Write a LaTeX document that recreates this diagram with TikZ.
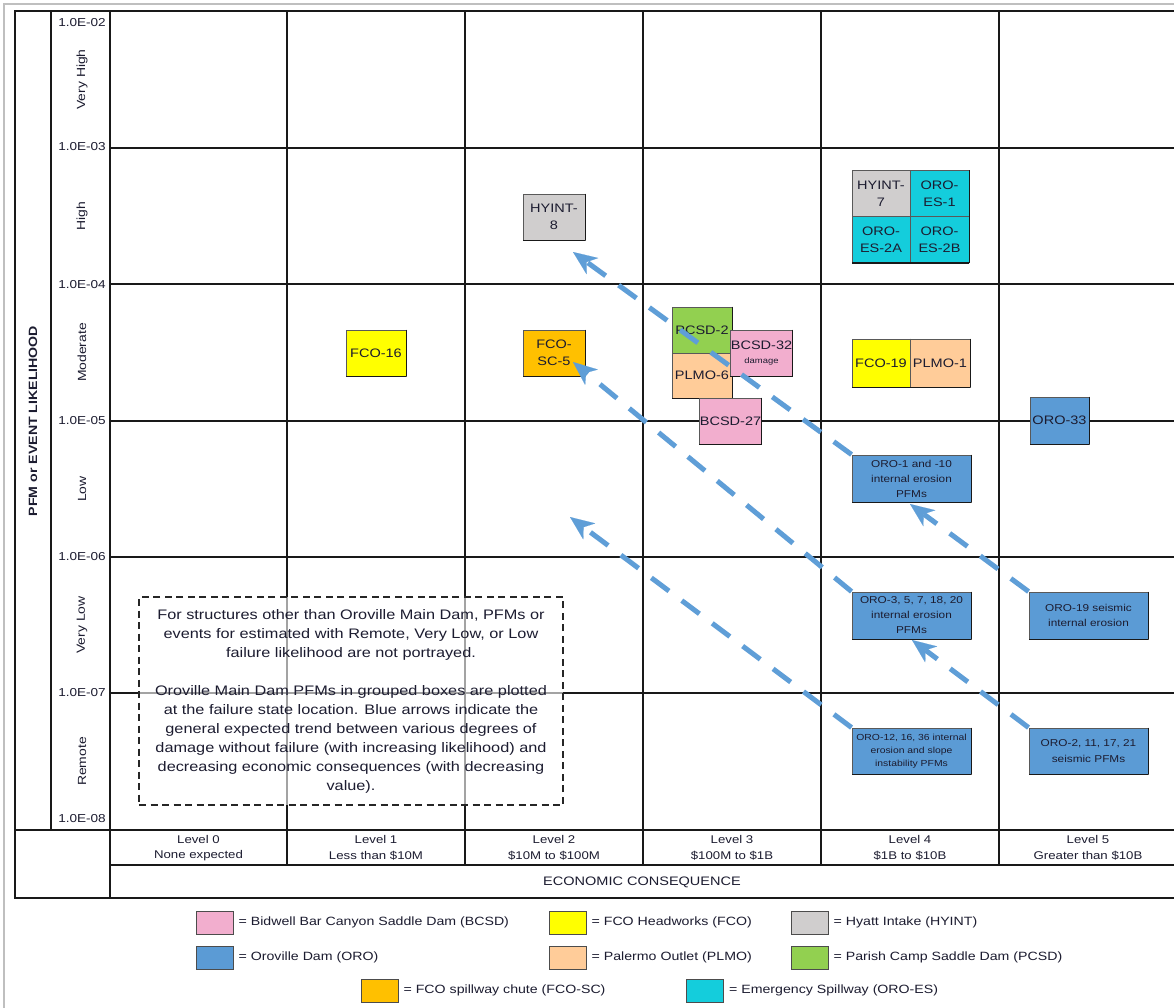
\documentclass[tikz,border=0pt]{standalone}
\usepackage{fontspec}
\setmainfont{Liberation Sans}[FakeStretch=1.18]
\usetikzlibrary{arrows.meta}
\definecolor{txtc}{RGB}{28,28,48}
\definecolor{pinkc}{RGB}{242,174,206}
\definecolor{yellowc}{RGB}{255,255,0}
\definecolor{grayc}{RGB}{208,206,206}
\definecolor{bluec}{RGB}{91,155,213}
\definecolor{peachc}{RGB}{255,204,153}
\definecolor{greenc}{RGB}{146,208,80}
\definecolor{orangec}{RGB}{255,192,0}
\definecolor{cyanc}{RGB}{20,205,220}
\definecolor{arrowc}{RGB}{95,158,215}
\newcommand\fsz[2]{\fontsize{#1}{#2}\selectfont}
\begin{document}
\begin{tikzpicture}[x=1pt,y=-1pt,
  every node/.style={text=txtc},
  gridline/.style={line width=1.5pt, draw=black!90},
  ticklbl/.style={anchor=east, inner sep=0pt, font=\fsz{11.5}{13}},
  catlbl/.style={rotate=90, inner sep=0pt, font=\fsz{11.8}{13}},
  lvllbl/.style={align=center, inner sep=0pt, font=\fsz{11.2}{15.5}},
  shadowedge/.style={draw=black!90, line width=1.3pt},
  pbox/.style={draw=black!65, line width=0.9pt, inner sep=0pt, align=center, font=\fsz{12.3}{17},
    append after command={(\tikzlastnode.north east) edge[shadowedge] (\tikzlastnode.south east)
      (\tikzlastnode.south east) edge[shadowedge] (\tikzlastnode.south west)}},
  orobox/.style={pbox, fill=bluec, minimum width=119, minimum height=47, font=\fsz{10}{15}},
  trend/.style={draw=arrowc, line width=5pt, dash pattern=on 22pt off 16pt,
    -{Stealth[length=24pt,width=20pt,inset=7pt,line width=0.1pt]}},
  swatch/.style={draw=black!70, line width=0.9pt, minimum width=37, minimum height=23, inner sep=0pt},
  legtext/.style={anchor=west, inner sep=0pt, xshift=5pt, font=\fsz{12}{14}},
]
\useasboundingbox (0,0) rectangle (1174,1008);
\clip (0,0) rectangle (1174,1008);
\fill[white] (0,0) rectangle (1174,1008);
% page border
\draw[black!25, line width=1.2pt] (4,1008) -- (4,4) -- (1174,4);
% frame and grid
\draw[gridline] (15,11) rectangle (1190,898);
\draw[gridline] (51,11) -- (51,830);
\draw[gridline] (110,11) -- (110,898);
\draw[gridline] (15,830) -- (1190,830);
\draw[gridline] (110,865) -- (1190,865);
\foreach \y in {148,284,421,557,693} \draw[gridline] (110,\y) -- (1190,\y);
\foreach \x in {287,465,643,821,999} \draw[gridline] (\x,11) -- (\x,865);
% axis labels
\foreach \y/\t in {23/02,147/03,285/04,421/05,557/06,693/07,819/08}
  \node[ticklbl] (tick\t) at (106,\y) {1.0E-\t};
\foreach \y/\t/\n in {79.5/Very High/a,216/High/b,352.5/Moderate/c,489/Low/d,625/Very Low/e,761.5/Remote/f}
  \node[catlbl] (cat\n) at (82,\y) {\t};
\node[rotate=90, inner sep=0pt, font=\bfseries\fsz{12}{14}] (ylabel) at (33,421) {PFM or EVENT LIKELIHOOD};
% level labels
\node[lvllbl] (lv0) at (198.5,848) {Level 0\\None expected};
\node[lvllbl] (lv1) at (376,848) {Level 1\\Less than \$10M};
\node[lvllbl] (lv2) at (554,848) {Level 2\\\$10M to \$100M};
\node[lvllbl] (lv3) at (732,848) {Level 3\\\$100M to \$1B};
\node[lvllbl] (lv4) at (910,848) {Level 4\\\$1B to \$10B};
\node[lvllbl] (lv5) at (1088,848) {Level 5\\Greater than \$10B};
\node[inner sep=0pt, font=\fsz{12.3}{14}] (xlabel) at (642,882) {ECONOMIC CONSEQUENCE};
% note box
\node[draw=black!85, line width=1.4pt, dash pattern=on 7pt off 4.5pt, fill=white, fill opacity=0.6, text opacity=1,
  minimum width=424, minimum height=208, inner sep=0pt, align=center, font=\fsz{13.8}{19}] (note) at (351,701)
  {For structures other than Oroville Main Dam, PFMs or\\
   events for estimated with Remote, Very Low, or Low\\
   failure likelihood are not portrayed.\\[19pt]
   Oroville Main Dam PFMs in grouped boxes are plotted\\
   at the failure state location. Blue arrows indicate the\\
   general expected trend between various degrees of\\
   damage without failure (with increasing likelihood) and\\
   decreasing economic consequences (with decreasing\\
   value).};
% boxes
\node[pbox, fill=grayc, minimum width=62, minimum height=46] (hyint8) at (554,217) {HYINT-\\8};
\node[pbox, fill=grayc, minimum width=58, minimum height=46] (hyint7) at (881,193.5) {HYINT-\\7};
\node[pbox, fill=cyanc, minimum width=59, minimum height=46] (oroes1) at (939.5,193.5) {ORO-\\ES-1};
\node[pbox, fill=cyanc, minimum width=58, minimum height=46] (oroes2a) at (881,239.5) {ORO-\\ES-2A};
\node[pbox, fill=cyanc, minimum width=59, minimum height=46] (oroes2b) at (939.5,239.5) {ORO-\\ES-2B};
\node[pbox, fill=yellowc, minimum width=60, minimum height=46] (fco16) at (376,353) {FCO-16};
\node[pbox, fill=orangec, minimum width=62, minimum height=46] (fcosc5) at (554,353) {FCO-\\SC-5};
\node[pbox, fill=greenc, minimum width=60, minimum height=46] (pcsd2) at (702,330) {PCSD-2};
\node[pbox, fill=peachc, minimum width=60, minimum height=45] (plmo6) at (702,375.5) {PLMO-6};
\node[pbox, fill=pinkc, minimum width=59, minimum height=46] (bcsd32) at (761.5,353)
  {BCSD-32\\[-3pt]{\fsz{8}{9}damage}};
\node[pbox, fill=pinkc, minimum width=61, minimum height=46] (bcsd27) at (730.5,421) {BCSD-27};
\node[pbox, fill=yellowc, minimum width=58, minimum height=48] (fco19) at (881,363) {FCO-19};
\node[pbox, fill=peachc, minimum width=60, minimum height=48] (plmo1) at (940,363) {PLMO-1};
\node[pbox, fill=bluec, minimum width=59, minimum height=47] (oro33) at (1059.5,420.5) {ORO-33};
\node[orobox] (oro1) at (911.5,478.5) {ORO-1 and -10\\internal erosion\\PFMs};
\node[orobox] (oro3) at (911.5,615.5) {ORO-3, 5, 7, 18, 20\\internal erosion\\PFMs};
\node[orobox] (oro19) at (1088.5,615.5) {ORO-19 seismic\\internal erosion};
\node[orobox, minimum height=46, font=\fsz{8.8}{13}] (oro12) at (911.5,751) {ORO-12, 16, 36 internal\\erosion and slope\\instability PFMs};
\node[orobox, minimum height=46, font=\fsz{10}{16}] (oro2) at (1088.5,751) {ORO-2, 11, 17, 21\\seismic PFMs};
% trend arrows
\coordinate (tipA) at (573,252);
\coordinate (tipB) at (573,362);
\coordinate (tipC) at (570,517);
\coordinate (tipD) at (910,504);
\coordinate (tipE) at (912,640);
\draw[trend] (oro1.north west) -- (tipA);
\draw[trend] (oro3.north west) -- (tipB);
\draw[trend] (oro12.north west) -- (tipC);
\draw[trend] (oro19.north west) -- (tipD);
\draw[trend] (oro2.north west) -- (tipE);
% legend
\node[swatch, fill=pinkc] (sw1) at (214.5,922.5) {};
\node[legtext] (lt1) at (sw1.east) {= Bidwell Bar Canyon Saddle Dam (BCSD)};
\node[swatch, fill=yellowc] (sw2) at (567.5,922.5) {};
\node[legtext] (lt2) at (sw2.east) {= FCO Headworks (FCO)};
\node[swatch, fill=grayc] (sw3) at (809.5,922.5) {};
\node[legtext] (lt3) at (sw3.east) {= Hyatt Intake (HYINT)};
\node[swatch, fill=bluec] (sw4) at (214.5,957.5) {};
\node[legtext] (lt4) at (sw4.east) {= Oroville Dam (ORO)};
\node[swatch, fill=peachc] (sw5) at (567.5,957.5) {};
\node[legtext] (lt5) at (sw5.east) {= Palermo Outlet (PLMO)};
\node[swatch, fill=greenc] (sw6) at (809.5,957.5) {};
\node[legtext] (lt6) at (sw6.east) {= Parish Camp Saddle Dam (PCSD)};
\node[swatch, fill=orangec] (sw7) at (379.5,990.5) {};
\node[legtext] (lt7) at (sw7.east) {= FCO spillway chute (FCO-SC)};
\node[swatch, fill=cyanc] (sw8) at (705,990.5) {};
\node[legtext] (lt8) at (sw8.east) {= Emergency Spillway (ORO-ES)};
\end{tikzpicture}
\end{document}
